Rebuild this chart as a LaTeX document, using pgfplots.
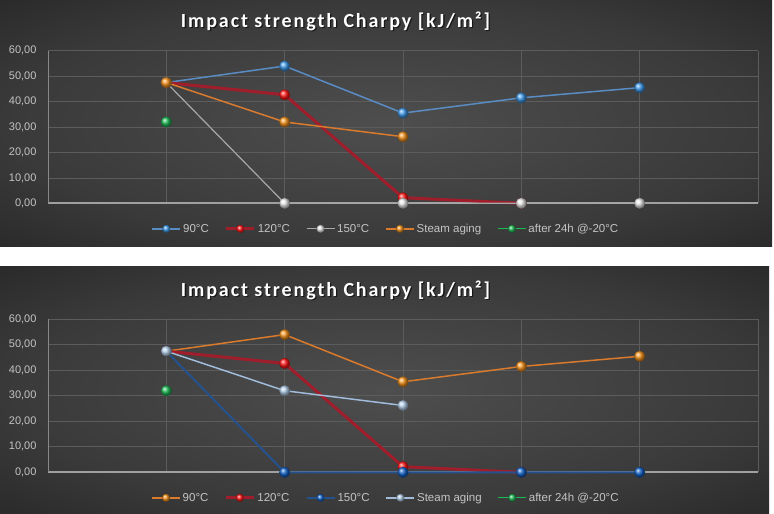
\documentclass[border=0pt]{standalone}
\usepackage{pgfplots}
\usepackage{pgfplotstable}
\pgfplotsset{compat=1.18}
\usepackage{fontspec}
\setmainfont{Liberation Sans}
\newfontfamily\titlefont[LetterSpace=9.5]{Carlito}

% chart palette
\definecolor{bgin}{HTML}{4E4E4E}
\definecolor{bgmid}{HTML}{3A3A3A}
\definecolor{bgout}{HTML}{161616}
\definecolor{gridc}{HTML}{5C5C5C}
\definecolor{tickc}{HTML}{C4C4C4}
\definecolor{axisc}{HTML}{A0A0A0}
\definecolor{bluel}{HTML}{5A8CC4}
\definecolor{bluem}{HTML}{3C98EA}
\definecolor{redl}{HTML}{A01E2C}
\definecolor{redm}{HTML}{FF1414}
\definecolor{grayl}{HTML}{A8A8A8}
\definecolor{graym}{HTML}{EAEAEA}
\definecolor{orangel}{HTML}{D97A2C}
\definecolor{orangem}{HTML}{F5921A}
\definecolor{greenm}{HTML}{1DBA55}
\definecolor{navyl}{HTML}{24528F}
\definecolor{navym}{HTML}{1262C8}
\definecolor{skyl}{HTML}{A0BCDA}
\definecolor{skym}{HTML}{B4CFEA}

\pgfdeclareradialshading{panelglow}{\pgfpoint{0bp}{0bp}}{%
  color(0bp)=(bgin); color(24bp)=(bgmid); color(50bp)=(bgout)}

% Charpy impact strength [kJ/m^2] per exposure step
\pgfplotstableread{
pos t90  t120 t150 steam cold
1   47.5 47.5 47.5 47.5  32.0
2   54.0 42.7 0    32.0  nan
3   35.5 2.2  0    26.2  nan
4   41.5 0    0    nan   nan
5   45.5 nan  0    nan   nan
}\charpydata

\pgfplotsset{
  charpy/.style={
    scale only axis, width=710pt, height=152.5pt, anchor=south west,
    xmin=0, xmax=6, ymin=0, ymax=60,
    axis lines=left, axis line style={-},
    x axis line style={axisc, line width=1.6pt},
    y axis line style={axisc!85!black, line width=0.8pt},
    xtick={1,...,6}, xticklabels={},
    ytick={0,10,...,60},
    grid=major, major grid style={gridc, line width=0.7pt},
    major tick length=0pt,
    clip=false,
    /pgf/number format/assume math mode=true,
    tick label style={font=\fontsize{11}{13}\selectfont, text=tickc},
    yticklabel style={xshift=-8pt, /pgf/number format/.cd, fixed, fixed zerofill, precision=2, use comma},
    legend columns=5,
    legend style={at={(axis description cs:0.476,0)}, anchor=center, yshift=-25.5pt,
      draw=none, fill=none, text=tickc, font=\fontsize{11.5}{13}\selectfont,
      /tikz/every even column/.append style={column sep=14pt}},
    legend image code/.code={%
      \draw[mark repeat=2, mark phase=2, ##1, mark size=4pt]
        plot coordinates {(0pt,0pt) (14pt,0pt) (28pt,0pt)};},
  },
  ser/.style n args={3}{color=#1, line width=#2, mark=ball, mark size=5.5pt,
    mark options={ball color=#3, draw opacity=0}},
}

\begin{document}
\begin{tikzpicture}
\path[fill=white, use as bounding box] (0pt,0pt) rectangle (774pt,514pt);

% upper panel
\shade[shading=panelglow] (0pt,267pt) rectangle (772pt,514pt);
\node[text=black, opacity=0.6, font=\titlefont\bfseries\fontsize{20}{24}\selectfont]
  at (336.8pt,491.5pt) {Impact strength Charpy [kJ/m²]};
\node[text=white, font=\titlefont\bfseries\fontsize{20}{24}\selectfont]
  at (335.5pt,492.5pt) {Impact strength Charpy [kJ/m²]};
\begin{axis}[charpy, at={(48pt,310.7pt)}]
  \addplot[ser={bluel}{1.5pt}{bluem}] table[x=pos, y=t90] {\charpydata};
  \addlegendentry{90°C}
  \addplot[ser={redl}{3pt}{redm}] table[x=pos, y=t120] {\charpydata};
  \addlegendentry{120°C}
  \addplot[ser={grayl}{1.2pt}{graym}] table[x=pos, y=t150] {\charpydata};
  \addlegendentry{150°C}
  \addplot[ser={orangel}{1.5pt}{orangem}] table[x=pos, y=steam] {\charpydata};
  \addlegendentry{Steam aging}
  \addplot[ser={greenm}{1.2pt}{greenm}] table[x=pos, y=cold] {\charpydata};
  \addlegendentry{after 24h @-20°C}
\end{axis}

% lower panel
\shade[shading=panelglow] (0pt,0pt) rectangle (769pt,247pt);
\node[text=black, opacity=0.6, font=\titlefont\bfseries\fontsize{20}{24}\selectfont]
  at (336.8pt,222.5pt) {Impact strength Charpy [kJ/m²]};
\node[text=white, font=\titlefont\bfseries\fontsize{20}{24}\selectfont]
  at (335.5pt,223.5pt) {Impact strength Charpy [kJ/m²]};
\begin{axis}[charpy, at={(48pt,41.7pt)}, height=153pt]
  \addplot[ser={orangel}{1.5pt}{orangem}] table[x=pos, y=t90] {\charpydata};
  \addlegendentry{90°C}
  \addplot[ser={redl}{3pt}{redm}] table[x=pos, y=t120] {\charpydata};
  \addlegendentry{120°C}
  \addplot[ser={navyl}{2pt}{navym}] table[x=pos, y=t150] {\charpydata};
  \addlegendentry{150°C}
  \addplot[ser={skyl}{1.5pt}{skym}] table[x=pos, y=steam] {\charpydata};
  \addlegendentry{Steam aging}
  \addplot[ser={greenm}{1.2pt}{greenm}] table[x=pos, y=cold] {\charpydata};
  \addlegendentry{after 24h @-20°C}
\end{axis}
\end{tikzpicture}
\end{document}
